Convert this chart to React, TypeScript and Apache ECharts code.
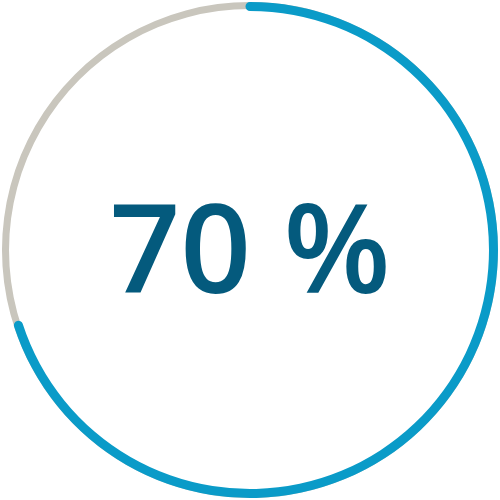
import React, { useEffect, useRef } from "react";
import * as echarts from "echarts";

const categories = ["Progress"];
const values = [70];
const maxValue = 100;

export default function App() {
  const ref = useRef<HTMLDivElement>(null);
  useEffect(() => {
    if (!ref.current) return;
    const chart = echarts.init(ref.current, null, { renderer: "svg" });
    chart.setOption({
      animation: false,
      backgroundColor: "#ffffff",
      series: [
        {
          type: "gauge",
          name: categories[0],
          center: ["50%", "50%"],
          radius: 248,
          startAngle: 90,
          endAngle: -270,
          min: 0,
          max: maxValue,
          clockwise: true,
          pointer: { show: false },
          axisTick: { show: false },
          splitLine: { show: false },
          axisLabel: { show: false },
          title: { show: false },
          axisLine: {
            lineStyle: { width: 7, color: [[1, "#c9c6bd"]] },
          },
          progress: {
            show: true,
            width: 9,
            roundCap: true,
            itemStyle: { color: "#0a9bc8" },
          },
          detail: {
            show: true,
            offsetCenter: [0, -6],
            valueAnimation: false,
            formatter: "{value} %",
            fontFamily: "Open Sans",
            fontWeight: 600,
            fontSize: 124,
            color: "#045a7d",
          },
          data: values.map((v, i) => ({ value: v, name: categories[i] })),
        },
      ],
    });
    return () => chart.dispose();
  }, []);
  return (
    <div
      ref={ref}
      style={{ position: "absolute", left: 0, top: 0, width: 500, height: 500 }}
    />
  );
}
